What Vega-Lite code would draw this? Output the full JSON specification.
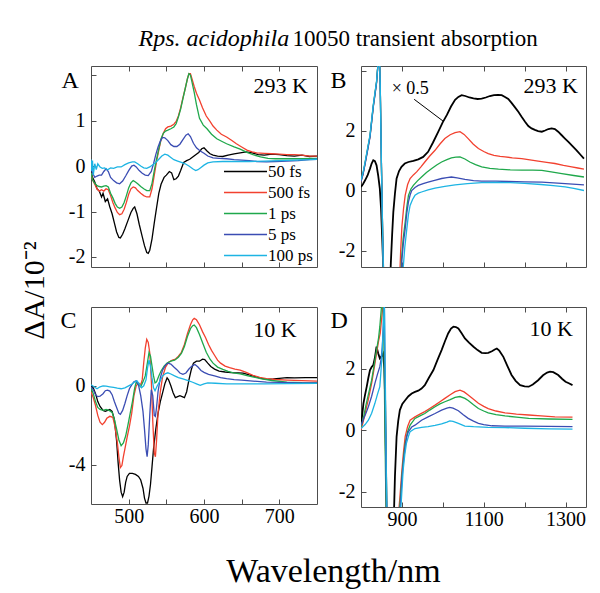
{
  "$schema": "https://vega.github.io/schema/vega-lite/v6.json",
  "autosize": "none",
  "padding": {"left": 91, "top": 66, "right": 509, "bottom": 527},
  "background": "white",
  "config": {
    "font": "Liberation Serif",
    "view": {"stroke": "#4d4d4d", "strokeWidth": 1},
    "axis": {"domain": false, "grid": false, "tickSize": -5, "tickColor": "#4d4d4d", "labelFont": "Liberation Serif", "labelFontSize": 20, "labelColor": "#000", "titleFont": "Liberation Serif", "titleFontWeight": "normal", "titleColor": "#000", "format": "d"},
    "axisY": {"labelPadding": 11},
    "axisX": {"labelPadding": 7}
  },
  "datasets": {
    "A": [
      {"s": "50 fs", "x": [450,452,455,458,461,464,466,469,472,475,478,481,484,487,489,492,495,499,503,506,508,511,514,518,521,524,526,528,531,534,537,540,543,547,550,554,557,560,563,566,569,573,577,581,585,589,593,597,600,604,608,612,618,625,632,640,648,656,664,672,680,690,700,710,720,730,740,750],
       "y": [-0.1,-0.25,-0.35,-0.5,-0.55,-0.68,-0.6,-0.78,-0.72,-0.9,-1.05,-1.25,-1.45,-1.57,-1.58,-1.5,-1.38,-1.2,-1.02,-0.93,-0.9,-1.05,-1.28,-1.55,-1.75,-1.9,-1.92,-1.85,-1.6,-1.25,-0.92,-0.6,-0.4,-0.25,-0.2,-0.12,-0.15,-0.3,-0.28,-0.22,-0.1,0.08,0.12,0.15,0.2,0.25,0.3,0.38,0.4,0.33,0.27,0.24,0.22,0.21,0.24,0.27,0.29,0.31,0.29,0.25,0.24,0.26,0.25,0.23,0.22,0.24,0.21,0.22]},
      {"s": "500 fs", "x": [450,452,455,458,461,464,467,470,473,476,479,482,485,488,491,494,497,500,503,506,509,512,516,520,524,528,531,534,537,540,543,546,549,552,556,560,563,566,569,572,575,578,580,582,584,587,590,594,598,603,608,612,617,623,630,637,643,650,657,664,670,680,690,700,710,720,730,740,750],
       "y": [-0.15,-0.3,-0.4,-0.5,-0.55,-0.52,-0.55,-0.5,-0.52,-0.65,-0.8,-0.92,-1.02,-1.07,-1.05,-0.95,-0.8,-0.62,-0.5,-0.46,-0.48,-0.54,-0.6,-0.65,-0.68,-0.68,-0.5,-0.2,0.1,0.35,0.58,0.72,0.82,0.86,0.88,0.92,0.98,1.1,1.28,1.5,1.7,1.92,2.03,2.03,1.92,1.75,1.6,1.45,1.28,1.1,0.98,0.88,0.79,0.7,0.64,0.56,0.49,0.42,0.35,0.31,0.29,0.28,0.27,0.26,0.25,0.25,0.24,0.22,0.22]},
      {"s": "1 ps", "x": [450,452,455,458,461,464,467,470,473,476,479,482,485,488,491,494,497,500,503,506,509,512,516,520,524,528,531,534,537,540,543,546,549,552,556,560,563,566,569,572,575,578,580,582,584,587,590,594,599,604,610,617,624,630,640,648,657,665,675,685,695,710,730,750],
       "y": [-0.15,-0.3,-0.38,-0.43,-0.45,-0.46,-0.44,-0.43,-0.46,-0.6,-0.7,-0.82,-0.9,-0.93,-0.9,-0.8,-0.65,-0.48,-0.37,-0.32,-0.35,-0.39,-0.45,-0.5,-0.54,-0.54,-0.38,-0.1,0.15,0.38,0.6,0.72,0.77,0.79,0.82,0.86,0.93,1.08,1.25,1.48,1.7,1.92,2.03,2.0,1.85,1.62,1.35,1.05,0.9,0.82,0.7,0.6,0.54,0.49,0.42,0.37,0.3,0.25,0.2,0.17,0.16,0.16,0.16,0.17]},
      {"s": "5 ps", "x": [450,452,455,458,461,464,467,470,473,476,480,484,488,492,496,500,504,507,510,514,518,522,526,530,533,536,539,542,545,548,552,556,560,564,568,572,576,579,582,586,590,595,600,605,612,620,630,640,650,660,670,683,695,710,725,740,750],
       "y": [-0.05,-0.15,-0.25,-0.22,-0.2,-0.2,-0.12,-0.06,-0.12,-0.25,-0.32,-0.37,-0.39,-0.33,-0.22,-0.1,0.0,0.02,-0.02,-0.1,-0.16,-0.2,-0.21,-0.12,0.05,0.25,0.42,0.55,0.63,0.62,0.56,0.47,0.43,0.43,0.48,0.58,0.68,0.71,0.65,0.5,0.4,0.33,0.28,0.22,0.18,0.17,0.16,0.14,0.13,0.12,0.1,0.09,0.1,0.11,0.12,0.14,0.15]},
      {"s": "100 ps", "x": [450,451,452,453,455,457,459,462,465,468,472,476,480,485,490,495,500,505,508,512,516,520,524,528,532,536,540,544,548,552,556,560,565,570,575,580,585,589,592,596,600,605,612,625,640,660,680,700,720,740,750],
       "y": [0.15,-0.1,0.12,-0.2,0.05,-0.08,0.05,-0.02,-0.05,-0.04,-0.08,-0.04,-0.05,-0.02,-0.02,0.03,0.07,0.09,0.09,0.05,0.0,-0.04,-0.05,-0.02,0.03,0.08,0.15,0.22,0.26,0.24,0.19,0.14,0.11,0.08,0.05,0.0,-0.06,-0.1,-0.08,-0.03,0.02,0.07,0.09,0.1,0.1,0.1,0.11,0.12,0.13,0.14,0.15]}
    ],
    "B": [
      {"s": "50 fs", "x": [800,805,810,816,822,826,830,834,838,842,846,849,851,854,856,870,873,876,879,883,887,893,899,907,916,928,940,952,964,976,989,1000,1010,1020,1030,1038,1046,1055,1065,1075,1085,1095,1105,1115,1125,1135,1144,1152,1160,1168,1176,1185,1193,1201,1209,1217,1225,1233,1242,1250,1258,1266,1274,1282,1290,1298,1307,1317,1327,1336,1345],
       "y": [0.12,0.22,0.34,0.5,0.73,0.9,1.01,0.98,0.84,0.5,0.06,-0.6,-1.3,-2.4,-3.5,-3.5,-2.4,-1.5,-0.72,-0.1,0.4,0.65,0.79,0.9,0.95,0.99,1.04,1.12,1.29,1.6,1.96,2.28,2.52,2.8,3.02,3.12,3.18,3.15,3.1,3.07,3.05,3.06,3.1,3.15,3.18,3.19,3.18,3.12,3.05,2.92,2.78,2.62,2.45,2.29,2.15,2.07,2.02,1.98,1.96,2.0,2.05,2.07,2.05,1.96,1.85,1.74,1.62,1.48,1.34,1.2,1.06]},
      {"s": "500 fs", "x": [800,805,810,816,822,826,830,834,838,842,845,847,850,853,856,893,897,900,904,908,914,920,928,936,946,956,968,981,993,1005,1018,1030,1042,1052,1062,1074,1087,1100,1111,1125,1140,1152,1170,1193,1213,1233,1254,1274,1295,1315,1330,1345],
       "y": [0.3,0.55,0.9,1.35,1.8,2.3,2.8,3.2,3.6,4.3,4.6,3.5,0.8,-1.5,-3.5,-3.5,-2.0,-1.2,-0.6,-0.16,0.2,0.4,0.52,0.62,0.78,0.95,1.15,1.34,1.55,1.73,1.86,1.93,1.96,1.87,1.73,1.55,1.4,1.3,1.23,1.17,1.14,1.12,1.09,1.06,1.02,0.98,0.94,0.9,0.84,0.79,0.75,0.71]},
      {"s": "1 ps", "x": [800,805,810,816,822,826,830,834,838,842,845,847,850,853,856,895,899,903,908,912,916,922,928,938,948,960,973,985,997,1010,1021,1032,1042,1054,1066,1080,1095,1115,1136,1165,1193,1220,1242,1265,1291,1320,1345],
       "y": [0.32,0.57,0.92,1.37,1.82,2.32,2.82,3.22,3.62,4.3,4.6,3.5,0.8,-1.5,-3.5,-3.5,-2.3,-1.6,-1.05,-0.55,-0.16,0.05,0.17,0.32,0.45,0.6,0.73,0.85,0.95,1.03,1.09,1.11,1.12,1.05,0.95,0.86,0.79,0.74,0.71,0.69,0.68,0.68,0.67,0.62,0.56,0.5,0.45]},
      {"s": "5 ps", "x": [800,805,810,816,822,826,830,834,838,842,845,847,850,853,856,897,900,904,908,912,916,920,924,932,940,952,964,980,997,1010,1021,1035,1054,1075,1095,1130,1160,1200,1242,1290,1345],
       "y": [0.3,0.54,0.88,1.32,1.78,2.28,2.78,3.18,3.58,4.3,4.6,3.5,0.8,-1.5,-3.5,-3.5,-2.3,-1.7,-1.28,-0.75,-0.38,-0.15,0.0,0.1,0.17,0.23,0.28,0.34,0.4,0.43,0.45,0.42,0.37,0.33,0.31,0.31,0.3,0.29,0.28,0.24,0.19]},
      {"s": "100 ps", "x": [800,805,810,816,822,826,830,834,838,842,845,847,850,853,856,900,903,907,912,916,920,926,932,940,948,964,981,1005,1030,1060,1095,1130,1165,1200,1240,1270,1299,1320,1345],
       "y": [0.34,0.6,0.95,1.4,1.85,2.35,2.85,3.25,3.63,4.3,4.6,3.5,0.8,-1.5,-3.5,-3.5,-2.6,-1.9,-1.28,-0.8,-0.5,-0.3,-0.16,-0.09,-0.05,0.02,0.08,0.14,0.19,0.23,0.26,0.27,0.26,0.24,0.2,0.16,0.12,0.07,0.0]}
    ],
    "C": [
      {"s": "50 fs", "x": [450,453,456,459,462,466,469,472,475,478,481,484,486,488,490,492,494,496,498,501,505,509,513,516,519,521,523,525,527,529,531,533,536,539,542,545,548,551,553,556,559,562,565,568,571,574,577,580,583,586,590,594,598,601,605,609,614,620,628,636,645,652,660,668,676,684,692,700,710,720,735,750],
       "y": [0.0,-0.1,-0.4,-0.8,-1.05,-1.25,-1.3,-1.25,-1.2,-1.3,-1.7,-2.8,-3.9,-4.8,-5.4,-5.63,-5.4,-4.9,-4.6,-4.45,-4.45,-4.5,-4.6,-4.78,-5.2,-5.7,-5.95,-5.95,-5.6,-5.0,-4.1,-3.2,-2.2,-1.4,-0.8,-0.36,0.1,0.4,0.3,0.0,-0.35,-0.6,-0.55,-0.5,-0.55,-0.6,-0.3,0.3,0.8,1.15,1.25,1.25,1.35,1.33,1.15,0.98,0.85,0.75,0.7,0.67,0.66,0.64,0.55,0.47,0.38,0.33,0.35,0.38,0.41,0.4,0.42,0.41]},
      {"s": "500 fs", "x": [450,453,456,459,462,465,468,471,475,479,482,485,487,489,491,493,495,498,501,504,507,510,513,516,518,520,522,524,526,528,530,532,534,535.5,537,539,542,545,549,553,558,562,566,570,574,578,582,585,587,590,594,598,602,606,610,614,618,622,628,634,641,648,656,665,674,683,695,710,730,750],
       "y": [-0.3,-0.6,-1.0,-1.5,-1.85,-1.97,-1.85,-1.65,-1.55,-1.6,-2.1,-2.9,-3.6,-4.15,-4.05,-3.6,-3.2,-2.6,-2.06,-1.4,-0.5,0.0,0.15,0.05,0.3,1.17,1.9,2.36,2.2,1.68,0.3,-1.8,-3.4,-3.6,-2.8,-1.38,-0.3,0.45,0.95,1.2,1.3,1.35,1.5,1.7,2.1,2.65,3.1,3.35,3.42,3.35,3.1,2.75,2.45,2.1,1.8,1.55,1.3,1.15,1.0,0.92,0.85,0.8,0.68,0.53,0.43,0.36,0.32,0.29,0.26,0.24]},
      {"s": "1 ps", "x": [450,453,456,459,462,466,470,474,478,481,484,487,490,493,496,499,502,505,508,510,513,516,519,522,525,527,529,531,533,535,537,540,543,547,551,556,561,566,570,574,578,582,585,587,590,594,598,603,608,612,618,625,632,639,648,657,666,675,690,710,730,750],
       "y": [-0.1,-0.4,-0.8,-1.1,-1.2,-1.25,-1.2,-1.25,-1.35,-1.7,-2.2,-2.75,-3.04,-2.9,-2.55,-2.0,-1.4,-0.8,-0.1,0.19,0.05,-0.05,0.2,0.5,1.2,1.68,1.5,1.0,0.5,0.15,0.2,0.5,0.75,1.0,1.15,1.25,1.3,1.45,1.65,2.0,2.5,2.9,3.05,3.08,2.95,2.6,2.2,1.7,1.35,1.15,0.95,0.83,0.73,0.66,0.6,0.52,0.44,0.36,0.27,0.19,0.16,0.15]},
      {"s": "5 ps", "x": [450,453,456,459,462,466,469,472,475,478,481,484,487,489,492,495,498,501,504,507,510,513,516,519,521,523,524.5,526,528,530,532,534,535.5,537,539,542,545,549,552,556,560,564,568,572,576,580,584,588,592,596,600,606,614,622,630,640,650,665,683,700,725,750],
       "y": [-0.05,-0.2,-0.45,-0.55,-0.53,-0.4,-0.25,-0.22,-0.27,-0.45,-0.8,-1.1,-1.4,-1.45,-1.25,-0.9,-0.5,-0.15,0.05,0.2,0.25,0.05,-0.5,-1.3,-2.2,-3.2,-3.6,-3.0,-1.5,-0.2,-0.5,-1.5,-1.55,-1.1,-0.3,0.4,0.8,1.05,1.15,1.1,0.95,0.82,0.65,0.58,0.65,0.85,1.0,1.08,0.95,0.78,0.68,0.58,0.5,0.42,0.36,0.31,0.29,0.24,0.19,0.17,0.15,0.15]},
      {"s": "100 ps", "x": [450,454,458,462,466,470,475,480,485,490,495,500,505,508,511,514,517,520,523,525,527,529,531,533,535,538,541,545,549,552,556,561,566,572,578,585,590,595,600,605,615,630,650,680,710,750],
       "y": [0.05,-0.05,-0.15,-0.05,0.0,-0.02,-0.05,-0.08,-0.12,-0.15,-0.1,0.0,0.1,0.2,0.25,0.1,-0.1,0.0,0.3,0.9,1.3,1.0,0.4,-0.1,-0.25,0.0,0.2,0.5,0.62,0.66,0.6,0.5,0.42,0.35,0.27,0.18,0.1,0.02,0.1,0.15,0.13,0.1,0.1,0.1,0.11,0.12]}
    ],
    "D": [
      {"s": "50 fs", "x": [800,803,806,810,814,818,822,826,830,834,838,842,846,850,854,857,859,861,863,880,883,887,891,895,901,908,916,924,932,940,948,956,966,977,987,997,1005,1013,1020,1026,1032,1038,1046,1054,1064,1075,1085,1095,1104,1111,1120,1127,1132,1138,1148,1158,1168,1178,1189,1200,1210,1220,1233,1245,1255,1262,1270,1282,1292,1300,1308,1317],
       "y": [0.16,0.5,0.87,1.15,1.41,1.7,1.95,2.05,2.11,2.35,2.71,2.5,2.33,2.4,2.49,2.0,1.0,-1.0,-3.0,-3.0,-1.5,-0.21,0.3,0.65,0.85,0.97,1.1,1.19,1.24,1.28,1.35,1.46,1.7,1.95,2.28,2.6,2.88,3.14,3.3,3.36,3.35,3.3,3.15,2.98,2.84,2.71,2.6,2.51,2.5,2.51,2.56,2.62,2.65,2.58,2.38,2.08,1.79,1.6,1.46,1.42,1.41,1.48,1.62,1.78,1.87,1.9,1.88,1.79,1.66,1.57,1.52,1.46]},
      {"s": "500 fs", "x": [800,805,810,818,826,832,838,843,847,851,854,857,859,861,863,890,895,900,904,908,914,920,932,944,956,968,981,993,1005,1018,1030,1042,1052,1062,1075,1087,1100,1111,1130,1152,1180,1210,1240,1274,1317],
       "y": [0.0,0.25,0.54,1.0,1.52,2.0,2.49,2.9,3.14,3.7,4.3,3.0,0.5,-1.5,-3.0,-3.0,-2.2,-1.3,-0.7,-0.21,0.12,0.32,0.43,0.52,0.6,0.7,0.81,0.92,1.03,1.15,1.25,1.3,1.24,1.14,1.0,0.87,0.77,0.7,0.62,0.56,0.52,0.49,0.46,0.43,0.42]},
      {"s": "1 ps", "x": [800,806,812,818,826,832,838,843,846,850,853,856,858,860,862,891,896,900,904,908,914,920,932,944,956,968,981,993,1005,1018,1030,1042,1054,1062,1075,1087,1100,1111,1130,1152,1180,1210,1260,1317],
       "y": [0.1,0.4,0.8,1.15,1.62,2.1,2.6,3.0,3.36,4.0,4.5,3.0,0.5,-1.5,-3.0,-3.0,-2.3,-1.5,-0.9,-0.43,-0.05,0.16,0.38,0.46,0.54,0.65,0.76,0.85,0.92,0.99,1.06,1.09,1.03,0.96,0.82,0.7,0.62,0.56,0.5,0.46,0.42,0.38,0.36,0.35]},
      {"s": "5 ps", "x": [800,806,812,818,826,834,840,846,849,852,855,857,859,861,863,893,897,900,904,908,912,916,924,932,948,964,981,997,1010,1017,1025,1038,1050,1062,1075,1087,1100,1120,1152,1200,1260,1317],
       "y": [0.16,0.35,0.55,0.76,1.1,1.52,1.8,2.06,2.3,2.7,3.5,4.3,1.0,-1.5,-3.0,-3.0,-2.3,-1.6,-1.0,-0.54,-0.2,-0.05,0.1,0.16,0.32,0.43,0.54,0.65,0.71,0.74,0.71,0.63,0.5,0.38,0.29,0.22,0.18,0.14,0.13,0.13,0.12,0.11]},
      {"s": "100 ps", "x": [800,810,818,826,834,840,846,849,852,855,857,860,862,864,895,899,903,907,911,916,920,932,948,964,981,997,1010,1017,1025,1038,1054,1075,1111,1152,1200,1260,1317],
       "y": [0.05,0.18,0.32,0.55,0.87,1.15,1.41,1.95,2.6,3.5,4.3,1.0,-1.5,-3.0,-3.0,-2.2,-1.3,-0.8,-0.43,-0.2,-0.05,0.05,0.09,0.11,0.15,0.2,0.26,0.3,0.28,0.22,0.13,0.11,0.09,0.08,0.06,0.04,0.03]}
    ]
  },
  "columns": 2,
  "spacing": {"row": 40, "column": 44},
  "bounds": "flush",
  "resolve": {"scale": {"color": "independent"}, "legend": {"color": "independent"}},
  "concat": [
    {
      "width": 226, "height": 201,
      "layer": [
        {
          "data": {"name": "A"},
          "transform": [{"flatten": ["x", "y"]}],
          "mark": {"type": "line", "clip": true, "strokeWidth": 1.3},
          "encoding": {
            "x": {"field": "x", "type": "quantitative", "scale": {"domain": [450, 750], "nice": false, "zero": false},
                  "axis": {"orient": "bottom", "values": [500, 550, 600, 650, 700], "labels": false, "title": null}},
            "y": {"field": "y", "type": "quantitative", "scale": {"domain": [-2.22, 2.2], "nice": false, "zero": false},
                  "axis": {"orient": "left", "values": [-2, -1, 0, 1, 2], "labelExpr": "datum.value == 2 ? '' : replace(datum.label, '−', '-')", "title": "A", "titleAngle": 0, "titleX": -30, "titleY": 21, "titleAlign": "left", "titleBaseline": "alphabetic", "titleFontSize": 24}},
            "color": {"field": "s", "type": "nominal",
                      "scale": {"domain": ["50 fs", "500 fs", "1 ps", "5 ps", "100 ps"], "range": ["#000000", "#f2412f", "#1fa84b", "#3b4db3", "#1db4e3"]},
                      "legend": {"orient": "none", "legendX": 146, "legendY": 97, "title": null, "symbolType": "M-5,0H5", "symbolSize": 74, "symbolStrokeWidth": 1.5, "labelFont": "Liberation Serif", "labelFontSize": 17, "labelColor": "#000", "labelOffset": 14, "rowPadding": 3, "padding": 0}}
          }
        },
        {
          "data": {"values": [{}]},
          "mark": {"type": "text", "align": "right", "baseline": "alphabetic", "fontSize": 22, "font": "Liberation Serif"},
          "encoding": {
            "x": {"datum": 738, "type": "quantitative", "scale": {"domain": [450, 750], "nice": false, "zero": false},
                  "axis": {"orient": "top", "values": [500, 550, 600, 650, 700], "labels": false, "title": "Rps. acidophila", "titleFontStyle": "italic", "titleFontSize": 24, "titleX": 47, "titleY": -21, "titleAlign": "left", "titleBaseline": "alphabetic"}},
            "y": {"datum": 1.61, "type": "quantitative", "scale": {"domain": [-2.22, 2.2], "nice": false, "zero": false}, "axis": null},
            "text": {"value": "293 K"}
          }
        }
      ],
      "resolve": {"axis": {"x": "independent", "y": "independent"}}
    },
    {
      "width": 225, "height": 201,
      "layer": [
        {
          "data": {"name": "B"},
          "transform": [{"flatten": ["x", "y"]}],
          "mark": {"type": "line", "clip": true},
          "encoding": {
            "x": {"field": "x", "type": "quantitative", "scale": {"domain": [800, 1350], "nice": false, "zero": false},
                  "axis": {"orient": "bottom", "values": [900, 1000, 1100, 1200, 1300], "labels": false, "title": null}},
            "y": {"field": "y", "type": "quantitative", "scale": {"domain": [-2.55, 4.15], "nice": false, "zero": false},
                  "axis": {"orient": "left", "values": [-2, 0, 2, 4], "labelExpr": "datum.value == 4 ? '' : replace(datum.label, '−', '-')", "title": "B", "titleAngle": 0, "titleX": -31, "titleY": 21, "titleAlign": "left", "titleBaseline": "alphabetic", "titleFontSize": 24}},
            "color": {"field": "s", "type": "nominal",
                      "scale": {"domain": ["50 fs", "500 fs", "1 ps", "5 ps", "100 ps"], "range": ["#000000", "#f2412f", "#1fa84b", "#3b4db3", "#1db4e3"]},
                      "legend": null},
            "strokeWidth": {"condition": {"test": "datum.s === '50 fs'", "value": 1.8}, "value": 1.3}
          }
        },
        {
          "data": {"values": [{}]},
          "mark": {"type": "text", "align": "right", "baseline": "alphabetic", "fontSize": 22, "font": "Liberation Serif"},
          "encoding": {
            "x": {"datum": 1330, "type": "quantitative", "scale": {"domain": [800, 1350], "nice": false, "zero": false},
                  "axis": {"orient": "top", "values": [900, 1000, 1100, 1200, 1300], "labels": false, "title": "10050 transient absorption", "titleFontSize": 23, "titleX": -69, "titleY": -21, "titleAlign": "left", "titleBaseline": "alphabetic"}},
            "y": {"datum": 3.25, "type": "quantitative", "scale": {"domain": [-2.55, 4.15], "nice": false, "zero": false}, "axis": null},
            "text": {"value": "293 K"}
          }
        },
        {
          "data": {"values": [{}]},
          "mark": {"type": "text", "align": "left", "baseline": "alphabetic", "fontSize": 18, "font": "Liberation Serif"},
          "encoding": {
            "x": {"datum": 875, "type": "quantitative", "scale": {"domain": [800, 1350], "nice": false, "zero": false}, "axis": null},
            "y": {"datum": 3.23, "type": "quantitative", "scale": {"domain": [-2.55, 4.15], "nice": false, "zero": false}, "axis": null},
            "text": {"value": "× 0.5"}
          }
        },
        {
          "data": {"values": [{}]},
          "mark": {"type": "rule", "color": "#000", "strokeWidth": 1},
          "encoding": {
            "x": {"datum": 930, "type": "quantitative", "scale": {"domain": [800, 1350], "nice": false, "zero": false}, "axis": null},
            "x2": {"datum": 1001},
            "y": {"datum": 3.04, "type": "quantitative", "scale": {"domain": [-2.55, 4.15], "nice": false, "zero": false}, "axis": null},
            "y2": {"datum": 2.31}
          }
        }
      ],
      "resolve": {"axis": {"x": "independent", "y": "independent"}}
    },
    {
      "width": 226, "height": 197,
      "layer": [
        {
          "data": {"name": "C"},
          "transform": [{"flatten": ["x", "y"]}],
          "mark": {"type": "line", "clip": true, "strokeWidth": 1.3},
          "encoding": {
            "x": {"field": "x", "type": "quantitative", "scale": {"domain": [450, 750], "nice": false, "zero": false},
                  "axis": {"orient": "bottom", "values": [500, 550, 600, 650, 700], "labelExpr": "datum.value % 100 == 0 ? datum.label : ''", "title": "Wavelength/nm", "titleFontSize": 34, "titleX": 242, "titleY": 77, "titleAlign": "center", "titleBaseline": "alphabetic"}},
            "y": {"field": "y", "type": "quantitative", "scale": {"domain": [-6, 4], "nice": false, "zero": false},
                  "axis": {"orient": "left", "values": [-4, 0], "labelExpr": "replace(datum.label, '−', '-')", "title": "ΔA/10⁻²", "titleAngle": -90, "titleX": -57, "titleY": -17, "titleAlign": "center", "titleBaseline": "middle", "titleFontSize": 30}},
            "color": {"field": "s", "type": "nominal",
                      "scale": {"domain": ["50 fs", "500 fs", "1 ps", "5 ps", "100 ps"], "range": ["#000000", "#f2412f", "#1fa84b", "#3b4db3", "#1db4e3"]},
                      "legend": null}
          }
        },
        {
          "data": {"values": [{}]},
          "mark": {"type": "text", "align": "right", "baseline": "alphabetic", "fontSize": 22, "font": "Liberation Serif"},
          "encoding": {
            "x": {"datum": 723, "type": "quantitative", "scale": {"domain": [450, 750], "nice": false, "zero": false},
                  "axis": {"orient": "top", "values": [500, 550, 600, 650, 700], "labels": false, "title": "C", "titleFontSize": 24, "titleX": -31, "titleY": 20, "titleAlign": "left", "titleBaseline": "alphabetic"}},
            "y": {"datum": 2.5, "type": "quantitative", "scale": {"domain": [-6, 4], "nice": false, "zero": false}, "axis": null},
            "text": {"value": "10 K"}
          }
        }
      ],
      "resolve": {"axis": {"x": "independent", "y": "independent"}}
    },
    {
      "width": 225, "height": 200,
      "layer": [
        {
          "data": {"name": "D"},
          "transform": [{"flatten": ["x", "y"]}],
          "mark": {"type": "line", "clip": true},
          "encoding": {
            "x": {"field": "x", "type": "quantitative", "scale": {"domain": [800, 1350], "nice": false, "zero": false},
                  "axis": {"orient": "bottom", "values": [900, 1000, 1100, 1200, 1300], "labelExpr": "datum.value % 200 == 100 ? datum.label : ''", "title": null}},
            "y": {"field": "y", "type": "quantitative", "scale": {"domain": [-2.5, 4], "nice": false, "zero": false},
                  "axis": {"orient": "left", "values": [-2, 0, 2], "labelExpr": "replace(datum.label, '−', '-')", "title": "D", "titleAngle": 0, "titleX": -31, "titleY": 20, "titleAlign": "left", "titleBaseline": "alphabetic", "titleFontSize": 24}},
            "color": {"field": "s", "type": "nominal",
                      "scale": {"domain": ["50 fs", "500 fs", "1 ps", "5 ps", "100 ps"], "range": ["#000000", "#f2412f", "#1fa84b", "#3b4db3", "#1db4e3"]},
                      "legend": null},
            "strokeWidth": {"condition": {"test": "datum.s === '50 fs'", "value": 1.8}, "value": 1.3}
          }
        },
        {
          "data": {"values": [{}]},
          "mark": {"type": "text", "align": "right", "baseline": "alphabetic", "fontSize": 22, "font": "Liberation Serif"},
          "encoding": {
            "x": {"datum": 1318, "type": "quantitative", "scale": {"domain": [800, 1350], "nice": false, "zero": false},
                  "axis": {"orient": "top", "values": [900, 1000, 1100, 1200, 1300], "labels": false, "title": null}},
            "y": {"datum": 3.07, "type": "quantitative", "scale": {"domain": [-2.5, 4], "nice": false, "zero": false}, "axis": null},
            "text": {"value": "10 K"}
          }
        }
      ],
      "resolve": {"axis": {"x": "independent", "y": "independent"}}
    }
  ]
}
